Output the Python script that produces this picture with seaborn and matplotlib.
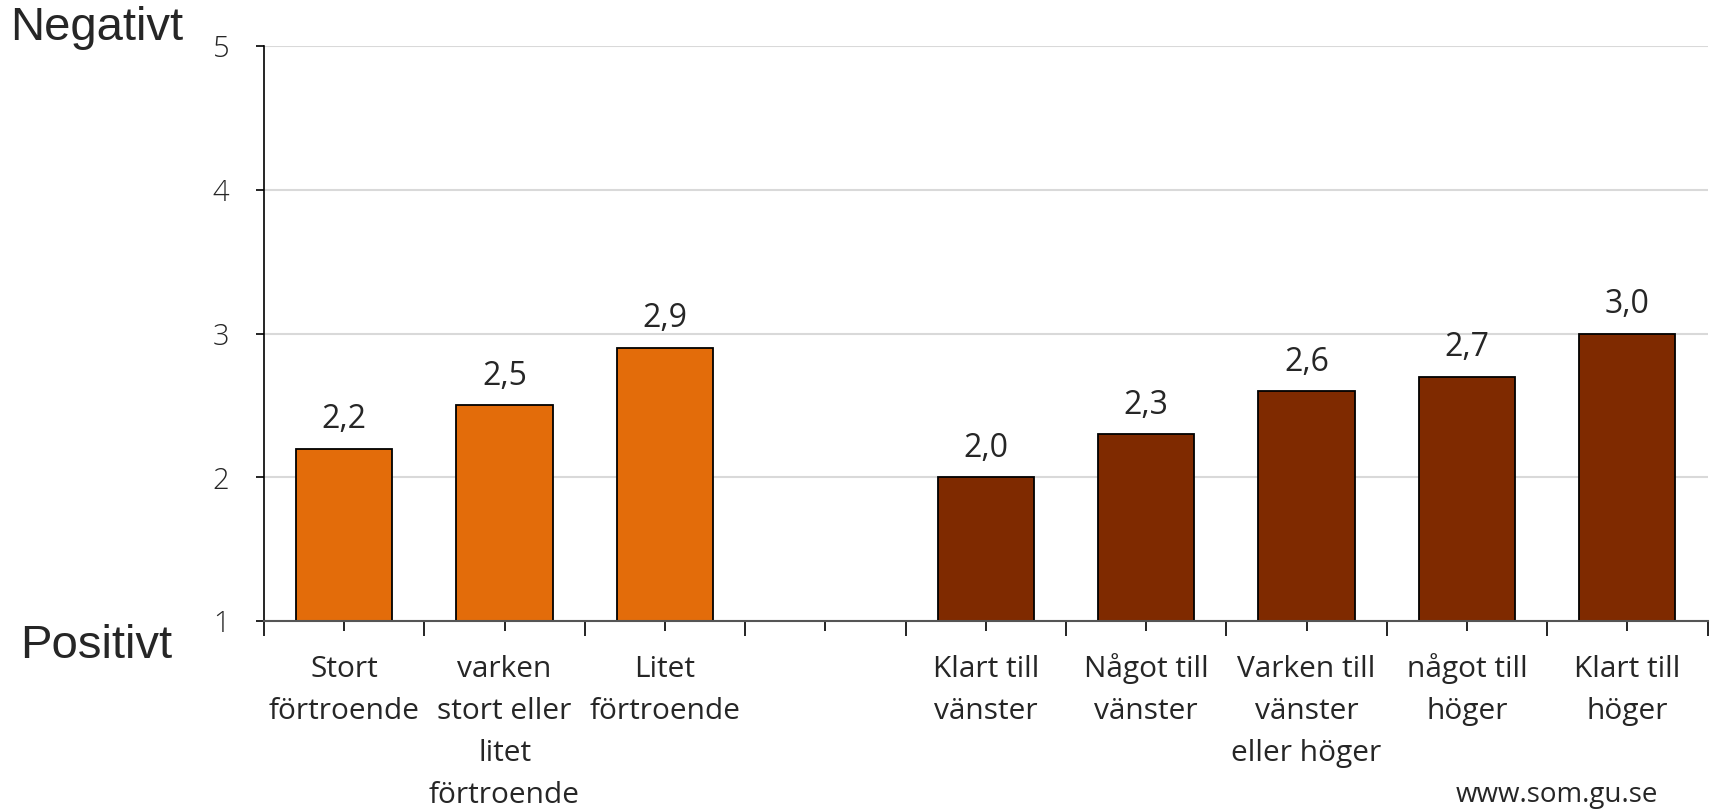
import matplotlib
matplotlib.use("Agg")
import matplotlib.pyplot as plt
import seaborn as sns
import pandas as pd
import numpy as np

# Data
kategorier = ["Stort\nförtroende", "varken\nstort eller\nlitet\nförtroende", "Litet\nförtroende", " ",
              "Klart till\nvänster", "Något till\nvänster", "Varken till\nvänster\neller höger",
              "något till\nhöger", "Klart till\nhöger"]
varden = [2.2, 2.5, 2.9, np.nan, 2.0, 2.3, 2.6, 2.7, 3.0]
grupp = ["fortroende"] * 3 + ["tom"] + ["hoger_vanster"] * 5
farger = {"fortroende": "#E36C0A", "tom": "#FFFFFF", "hoger_vanster": "#7F2A00"}

df = pd.DataFrame({"kat": kategorier, "varde": varden, "grupp": grupp}).dropna()

sns.set_style("white")
plt.rcParams["font.family"] = ["Open Sans", "DejaVu Sans"]

fig = plt.figure(figsize=(17.11, 8.11), dpi=100)
ax = fig.add_axes([0.1543, 0.2343, 0.8437, 0.7087])

palett = {k: farger[g] for k, g in zip(kategorier, grupp)}
sns.barplot(data=df, x="kat", y="varde", hue="kat", order=kategorier, hue_order=kategorier,
            palette=palett, legend=False, width=0.6, edgecolor="black", linewidth=1.3,
            saturation=1, ax=ax, zorder=3)

ax.set_ylim(1, 5)
ax.set_xlim(-0.5, len(kategorier) - 0.5)
ax.set_yticks([1, 2, 3, 4, 5])
ax.set_yticklabels(["1", "2", "3", "4", "5"], fontsize=21, fontweight="light")
ax.yaxis.grid(True, color="#D9D9D9", linewidth=1.5, zorder=0)
ax.set_axisbelow(True)

# korta streck vid staplarnas mitt, långa streck mellan kategorierna
ax.set_xticks(range(len(kategorier)))
ax.set_xticklabels([])
ax.set_xticks(np.arange(-0.5, len(kategorier)), minor=True)
ax.tick_params(axis="x", which="major", bottom=True, length=7, width=1.2, color="black",
               direction="out")
ax.tick_params(axis="x", which="minor", bottom=True, length=11, width=1.2, color="black",
               direction="out")
ax.tick_params(axis="y", length=6, width=1.2, color="black", pad=19, direction="out", left=True)
ax.set_xlabel("")
ax.set_ylabel("")

# kategorietiketter rad för rad så att alla första rader ligger på samma baslinje
xtrans = ax.get_xaxis_transform()
for i, kat in enumerate(kategorier):
    for k, rad in enumerate(kat.split("\n")):
        ax.annotate(rad, xy=(i, 0), xycoords=xtrans, xytext=(0, -40 - k * 30.3),
                    textcoords="offset points", ha="center", va="baseline",
                    fontsize=21.5, annotation_clip=False)

for s in ["top", "right"]:
    ax.spines[s].set_visible(False)
ax.spines["left"].set_color("black")
ax.spines["left"].set_linewidth(1.2)
ax.spines["bottom"].set_color("#555555")
ax.spines["bottom"].set_linewidth(1.5)
ax.spines["bottom"].set_zorder(5)

for cont in ax.containers:
    etiketter = [f"{b.get_height():.1f}".replace(".", ",") for b in cont]
    ax.bar_label(cont, labels=etiketter, padding=9, fontsize=23)

fig.text(0.006, 0.966, "Negativt", fontsize=34, family="Liberation Sans", va="center", ha="left")
fig.text(0.012, 0.203, "Positivt", fontsize=34, family="Liberation Sans", va="center", ha="left")
fig.text(0.91, 0.002, "www.som.gu.se", fontsize=20, ha="center", va="bottom")

fig.savefig("out.png", dpi=100)
